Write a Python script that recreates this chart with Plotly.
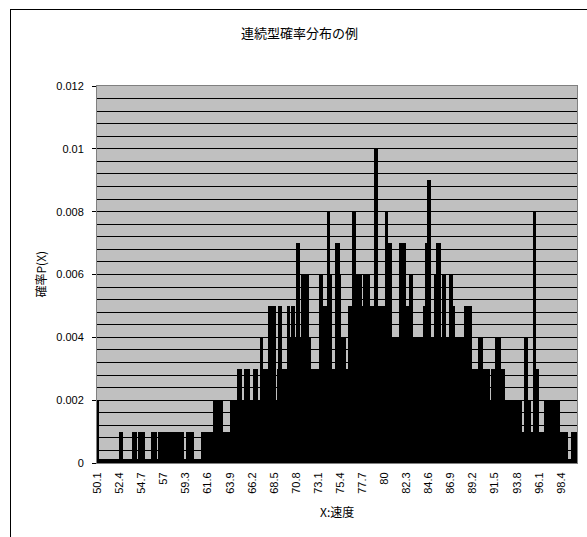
import plotly.graph_objects as go

# Speed categories 50.1 ... 100.0 in 0.1 steps
speeds = [f"{(501 + k) / 10:g}" for k in range(500)]

# Labelled categories on the x axis
tick_labels = ["50.1", "52.4", "54.7", "57", "59.3", "61.6", "63.9", "66.2",
               "68.5", "70.8", "73.1", "75.4", "77.7", "80", "82.3", "84.6",
               "86.9", "89.2", "91.5", "93.8", "96.1", "98.4"]

# Probability of each speed, in thousandths (20 categories per row)
p_milli = [
    2, 2, 0, 0, 0, 0, 0, 0, 0, 0, 0, 0, 0, 0, 0, 0, 0, 0, 0, 0,
    0, 0, 0, 1, 1, 1, 1, 0, 0, 0, 0, 0, 0, 0, 0, 0, 0, 1, 1, 1,
    1, 0, 0, 1, 1, 1, 0, 1, 1, 1, 0, 0, 0, 0, 0, 0, 0, 1, 1, 1,
    1, 1, 0, 0, 1, 1, 1, 1, 1, 1, 1, 1, 0, 1, 1, 1, 1, 1, 0, 1,
    1, 1, 1, 1, 1, 1, 1, 1, 1, 1, 0, 0, 0, 1, 1, 1, 0, 1, 1, 1,
    1, 0, 0, 0, 0, 0, 0, 0, 0, 1, 1, 1, 0, 1, 1, 1, 1, 1, 1, 1,
    1, 2, 2, 2, 2, 2, 1, 2, 2, 2, 2, 1, 1, 1, 1, 1, 1, 1, 0, 2,
    2, 2, 1, 2, 2, 2, 3, 3, 3, 3, 3, 2, 2, 2, 3, 3, 3, 3, 3, 1,
    2, 2, 2, 3, 3, 3, 3, 2, 2, 2, 4, 4, 3, 3, 3, 3, 3, 3, 3, 5,
    5, 5, 5, 4, 5, 5, 1, 2, 3, 5, 5, 5, 3, 3, 3, 3, 3, 2, 5, 5,
    5, 4, 4, 5, 5, 5, 4, 4, 7, 7, 7, 4, 4, 6, 6, 6, 6, 4, 6, 6,
    4, 4, 3, 3, 3, 3, 3, 3, 3, 3, 2, 3, 6, 6, 6, 3, 5, 5, 5, 5,
    8, 8, 6, 6, 3, 3, 3, 3, 7, 7, 7, 7, 7, 6, 4, 4, 4, 4, 4, 3,
    3, 3, 5, 5, 5, 5, 8, 8, 8, 6, 6, 6, 5, 6, 6, 6, 5, 1, 6, 6,
    6, 6, 6, 6, 5, 5, 5, 5, 5, 10, 10, 10, 5, 5, 5, 5, 5, 5, 5, 5,
    5, 8, 8, 7, 7, 7, 7, 4, 4, 2, 4, 4, 4, 4, 4, 7, 7, 7, 7, 7,
    7, 5, 5, 5, 5, 6, 6, 6, 6, 4, 4, 4, 4, 4, 4, 3, 4, 4, 2, 4,
    5, 5, 7, 7, 9, 9, 9, 4, 4, 3, 4, 4, 6, 6, 7, 7, 7, 7, 4, 4,
    6, 6, 6, 3, 4, 4, 4, 6, 6, 6, 5, 5, 4, 4, 3, 3, 4, 4, 4, 4,
    4, 4, 4, 5, 5, 5, 5, 5, 5, 5, 3, 3, 3, 3, 3, 3, 3, 4, 4, 4,
    4, 4, 3, 3, 3, 3, 3, 3, 3, 2, 2, 3, 3, 3, 3, 4, 4, 4, 4, 4,
    1, 3, 3, 3, 2, 2, 2, 2, 2, 2, 2, 2, 2, 2, 2, 1, 2, 2, 1, 2,
    2, 2, 1, 1, 1, 4, 4, 4, 2, 2, 2, 2, 1, 1, 1, 8, 8, 3, 3, 3,
    1, 1, 1, 1, 1, 1, 2, 2, 2, 1, 2, 1, 2, 2, 1, 2, 2, 2, 2, 2,
    2, 2, 1, 1, 1, 1, 1, 1, 1, 1, 0, 0, 0, 0, 1, 1, 1, 1, 1, 1,
]
prob = [v / 1000 for v in p_milli]

y_ticks = [0, 0.002, 0.004, 0.006, 0.008, 0.01, 0.012]
y_tick_text = ["0", "0.002", "0.004", "0.006", "0.008", "0.01", "0.012"]

JP_FONT = "Noto Sans CJK JP"
NUM_FONT = "Liberation Sans"

fig = go.Figure(
    go.Bar(
        x=speeds,
        y=prob,
        marker=dict(color="black", line=dict(width=0)),
        hovertemplate="%{x}: %{y}<extra></extra>",
    )
)

W, H = 587, 537
L, R, T, B = 97, 10, 86, 74
pw, ph = W - L - R, H - T - B


def px(x):
    return (x - L) / pw


def py(y):
    return (H - B - y) / ph


fig.update_layout(
    width=W,
    height=H,
    margin=dict(l=L, r=R, t=T, b=B, pad=0),
    paper_bgcolor="white",
    plot_bgcolor="#C0C0C0",
    bargap=0,
    showlegend=False,
    xaxis=dict(
        type="category",
        categoryorder="array",
        categoryarray=speeds,
        tickmode="array",
        tickvals=speeds,
        ticktext=[s if s in tick_labels else "" for s in speeds],
        tickangle=-90,
        ticks="inside",
        ticklen=4,
        tickwidth=1,
        tickcolor="black",
        tickfont=dict(family=NUM_FONT, size=11, color="black"),
        ticklabelstandoff=4,
        showgrid=False,
        showline=True,
        linecolor="#808080",
        linewidth=1,
        mirror=True,
        zeroline=False,
    ),
    yaxis=dict(
        range=[0, 0.012],
        tickmode="array",
        tickvals=y_ticks,
        ticktext=y_tick_text,
        ticks="outside",
        ticklen=4,
        tickcolor="black",
        tickfont=dict(family=NUM_FONT, size=11, color="black"),
        ticklabelstandoff=6,
        showgrid=True,
        gridcolor="black",
        gridwidth=1,
        minor=dict(tickmode="linear", tick0=0, dtick=0.0004,
                   showgrid=True, gridcolor="black", gridwidth=1),
        showline=True,
        linecolor="#808080",
        linewidth=1,
        mirror=True,
        zeroline=False,
    ),
    annotations=[
        dict(text="連続型確率分布の例", x=px(299), y=py(32), xref="paper", yref="paper",
             showarrow=False, xanchor="center", yanchor="middle",
             font=dict(family=JP_FONT, size=13, color="black")),
        dict(text="X:速度", x=0.5, y=py(511), xref="paper", yref="paper",
             showarrow=False, xanchor="center", yanchor="middle",
             font=dict(family=JP_FONT, size=12, color="black")),
        dict(text="確率P(X)", x=px(40), y=0.5, xref="paper", yref="paper",
             showarrow=False, xanchor="center", yanchor="middle", textangle=-90,
             font=dict(family=JP_FONT, size=12, color="black")),
    ],
    shapes=[
        # chart frame (left and top edges)
        dict(type="line", xref="paper", yref="paper",
             x0=px(10.5), x1=px(10.5), y0=py(540), y1=py(9),
             line=dict(color="black", width=1)),
        dict(type="line", xref="paper", yref="paper",
             x0=px(10), x1=px(590), y0=py(9.5), y1=py(9.5),
             line=dict(color="black", width=1)),
    ],
)

fig.write_html("out.html")
